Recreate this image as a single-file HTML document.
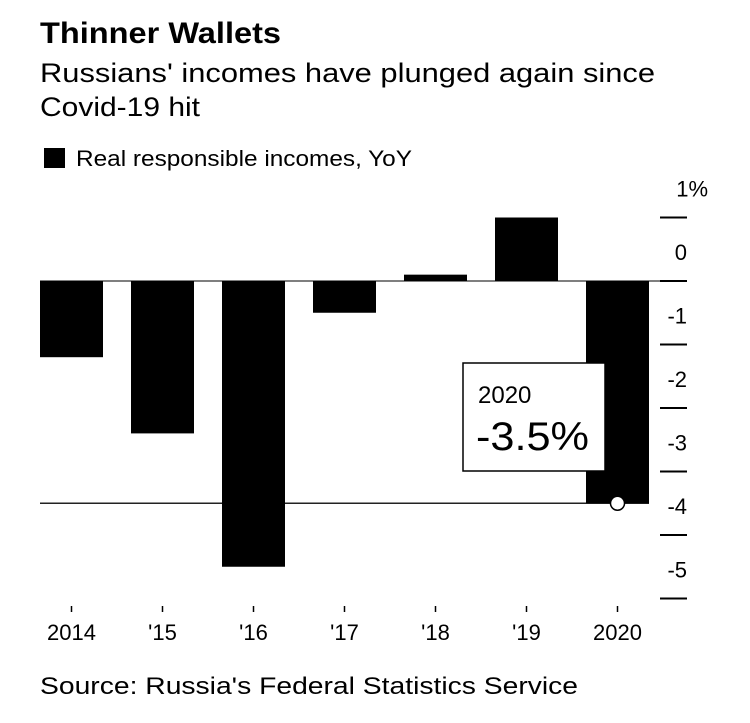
<!DOCTYPE html>
<html><head><meta charset="utf-8"><style>
body{margin:0;background:#fff;font-family:"Liberation Sans",sans-serif;}
svg{display:block}
</style></head><body>
<svg width="750" height="723" xmlns="http://www.w3.org/2000/svg">
<text x="40" y="43" font-size="30" font-weight="bold" textLength="241" lengthAdjust="spacingAndGlyphs">Thinner Wallets</text>
<text x="40" y="82" font-size="27" textLength="615" lengthAdjust="spacingAndGlyphs">Russians' incomes have plunged again since</text>
<text x="40" y="116" font-size="27" textLength="160" lengthAdjust="spacingAndGlyphs">Covid-19 hit</text>
<rect x="44" y="148" width="21" height="20" fill="#000"/>
<text x="76" y="166" font-size="22" textLength="336" lengthAdjust="spacingAndGlyphs">Real responsible incomes, YoY</text>
<g id="plot"></g>
<text x="40" y="694" font-size="24" textLength="538" lengthAdjust="spacingAndGlyphs">Source: Russia's Federal Statistics Service</text>
</svg>
<script>
const categories=["2014","'15","'16","'17","'18","'19","2020"];
const values=[-1.2,-2.4,-4.5,-0.5,0.1,1.0,-3.5];
const yTicks=[1,0,-1,-2,-3,-4,-5];
const yTickLabels=["1%","0","-1","-2","-3","-4","-5"];
const highlightValue=-3.5;
const NS="http://www.w3.org/2000/svg";
const g=document.getElementById('plot');
function y(v){return 281-v*63.5;}
function x(i){return 40+i*91;}
const bw=63;
function mk(t,a){const e=document.createElementNS(NS,t);for(const k in a)e.setAttribute(k,a[k]);g.appendChild(e);return e;}
let e;
e=mk('line',{x1:40,x2:687,y1:y(0),y2:y(0),stroke:'#555','stroke-width':1.5});


e=mk('line',{x1:40,x2:x(6)+bw,y1:y(highlightValue),y2:y(highlightValue),stroke:'#222','stroke-width':1.5});


values.forEach((v,i)=>{
  const r=mk('rect',{x:x(i),y:Math.min(y(0),y(v)),width:bw,height:Math.abs(y(v)-y(0)),fill:'#000'});
  
  
  const t=mk('line',{x1:x(i)+bw/2,x2:x(i)+bw/2,y1:606,y2:612,stroke:'#000','stroke-width':1.5});
  
  
  const l=mk('text',{x:x(i)+bw/2,y:640,'font-size':22,'text-anchor':'middle'});
  l.textContent=categories[i];
  
  
});
yTicks.forEach((v,i)=>{
  const t=mk('line',{x1:660,x2:687,y1:y(v),y2:y(v),stroke:'#000','stroke-width':2});
  
  
  const isTop=i===0;
  const l=mk('text',{x:isTop?708:687,y:y(v)-21,'font-size':22,'text-anchor':'end'});
  l.textContent=yTickLabels[i];
  
  
});
e=mk('circle',{cx:x(6)+bw/2,cy:y(highlightValue),r:7,fill:'#fff',stroke:'#000','stroke-width':1.5});


e=mk('rect',{x:463,y:363,width:142,height:108,fill:'#fff',stroke:'#000','stroke-width':1.5});


e=mk('text',{x:478,y:403,'font-size':24});
e.textContent=categories[6];


e=mk('text',{x:476,y:450,'font-size':40,textLength:113,lengthAdjust:'spacingAndGlyphs'});
e.textContent=highlightValue+'%';


</script>
</body></html>
